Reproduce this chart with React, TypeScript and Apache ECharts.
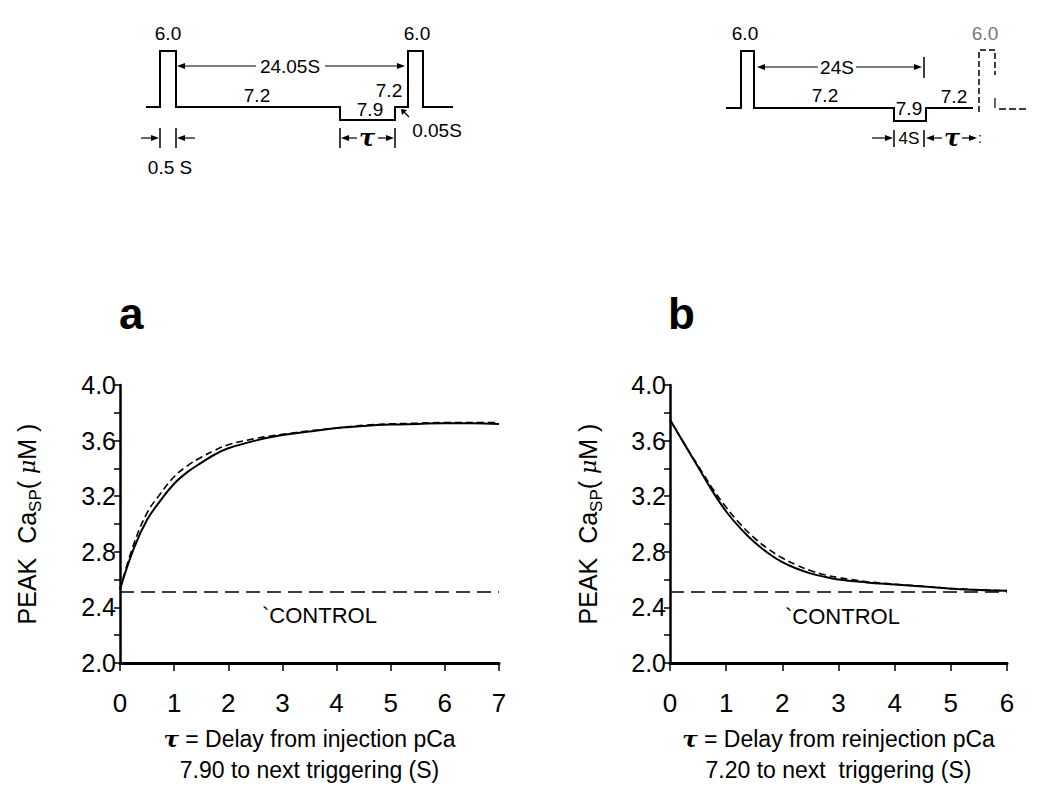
import React, { useEffect, useRef } from "react";
import * as echarts from "echarts";

const FONT = '"Liberation Sans", Arial, Helvetica, sans-serif';

// Panel a: delay from injection pCa 7.90
const tA = [0, 0.25, 0.5, 0.75, 1, 1.25, 1.5, 1.75, 2, 2.5, 3, 3.5, 4, 4.5, 5, 5.5, 6, 6.5, 7];
const solidA = [2.53, 2.82, 3.03, 3.17, 3.29, 3.375, 3.44, 3.5, 3.545, 3.6, 3.64, 3.665, 3.69, 3.705, 3.715, 3.72, 3.725, 3.725, 3.72];
const dashA = [2.53, 2.85, 3.08, 3.22, 3.34, 3.42, 3.48, 3.53, 3.57, 3.615, 3.645, 3.67, 3.69, 3.71, 3.72, 3.725, 3.73, 3.73, 3.73];

// Panel b: delay from reinjection pCa 7.20
const tB = [0, 0.25, 0.5, 0.75, 1, 1.25, 1.5, 1.75, 2, 2.25, 2.5, 2.75, 3, 3.5, 4, 4.5, 5, 5.5, 6];
const solidB = [3.75, 3.58, 3.41, 3.24, 3.09, 2.97, 2.87, 2.79, 2.725, 2.68, 2.645, 2.62, 2.6, 2.58, 2.565, 2.55, 2.535, 2.525, 2.52];
const dashB = [3.75, 3.58, 3.42, 3.26, 3.12, 3.0, 2.9, 2.82, 2.755, 2.705, 2.665, 2.635, 2.615, 2.585, 2.567, 2.552, 2.537, 2.527, 2.52];

const controlLevel = 2.51;
const xMaxA = 7;
const xMaxB = 6;
const yMin = 2.0;
const yMax = 4.0;

const yTitle = "PEAK  Ca{sub|SP}( {mu|μ}M )";
const xTitleA = "{tau|τ} = Delay from injection pCa\n7.90 to next triggering (S)";
const xTitleB = "{tau|τ} = Delay from reinjection pCa\n7.20 to next  triggering (S)";

function pairs(xs: number[], ys: number[]) {
  return xs.map((x, i) => [x, ys[i]]);
}

const K = "#000";

function line(x1: number, y1: number, x2: number, y2: number, w = 2, dash?: number[]) {
  return {
    type: "line",
    shape: { x1, y1, x2, y2 },
    style: { stroke: K, lineWidth: w, lineDash: dash },
  };
}
function poly(points: number[][], w = 2, dash?: number[]) {
  return {
    type: "polyline",
    shape: { points },
    style: { stroke: K, lineWidth: w, fill: null, lineDash: dash },
  };
}
function head(tx: number, ty: number, dir: number) {
  return {
    type: "polygon",
    shape: { points: [[tx, ty], [tx - dir * 8, ty - 3], [tx - dir * 8, ty + 3]] },
    style: { fill: K },
  };
}
function arrow(x1: number, x2: number, y: number) {
  const dir = x2 > x1 ? 1 : -1;
  return [line(x1, y, x2 - dir * 4, y, 1.2), head(x2, y, dir)];
}
function txt(text: string, x: number, y: number, size = 18, extra: any = {}) {
  return {
    type: "text",
    x,
    y,
    style: {
      text,
      fontFamily: FONT,
      fontSize: size,
      fill: K,
      align: "center",
      verticalAlign: "middle",
      ...extra,
    },
  };
}
function tau(x: number, y: number) {
  return txt("τ", x, y, 24, { fontFamily: '"DejaVu Serif", serif', fontStyle: "italic", fontWeight: "bold" });
}

function schematic() {
  const g: any[] = [];
  // ---- left protocol ----
  g.push(
    poly([
      [146, 107], [160, 107], [160, 51], [176, 51], [176, 107], [340, 107], [340, 120],
      [395, 120], [395, 107], [408, 107], [408, 51], [423, 51], [423, 107], [453, 107],
    ])
  );
  g.push(txt("6.0", 168, 33, 19), txt("6.0", 417, 33, 19));
  g.push(...arrow(256, 177, 66), ...arrow(325, 405, 66));
  g.push(txt("24.05S", 290, 66, 19));
  g.push(txt("7.2", 257, 95, 19), txt("7.2", 389, 90, 19), txt("7.9", 370, 109, 19));
  g.push(line(409, 117, 403, 111, 1.2));
  g.push({ type: "polygon", shape: { points: [[401, 109], [407, 110], [402, 115]] }, style: { fill: K } });
  g.push(txt("0.05S", 437, 130, 19));
  // tau bracket
  g.push(line(340, 128, 340, 148, 1.5), line(395, 128, 395, 148, 1.5));
  g.push(...arrow(357, 341, 138), ...arrow(378, 394, 138));
  g.push(tau(367, 137));
  // 0.5 s
  g.push(line(160, 128, 160, 148, 1.5), line(176, 128, 176, 148, 1.5));
  g.push(...arrow(141, 159, 138), ...arrow(195, 177, 138));
  g.push(txt("0.5 S", 170, 167, 19));

  // ---- right protocol ----
  g.push(
    poly([
      [726, 108], [741, 108], [741, 51], [754, 51], [754, 108], [894, 108], [894, 121],
      [926, 121], [926, 108], [973, 108],
    ])
  );
  g.push(poly([[979, 112], [979, 50], [995, 50], [995, 75]], 1.5, [6, 3]));
  g.push(line(995, 98, 995, 108, 1.2));
  g.push(line(999, 109, 1028, 109, 1.5, [7, 3]));
  g.push(txt("6.0", 745, 33, 19), txt("6.0", 985, 33, 19, { fill: "#777" }));
  g.push(...arrow(818, 757, 67), ...arrow(856, 922, 67));
  g.push(line(924, 57, 924, 78, 1.5));
  g.push(txt("24S", 837, 67, 19));
  g.push(txt("7.2", 825, 95, 19), txt("7.9", 909, 108, 19), txt("7.2", 954, 96, 19));
  g.push(...arrow(872, 893, 138));
  g.push(line(894, 130, 894, 147, 1.5), line(924, 130, 924, 147, 1.5));
  g.push(txt("4S", 909, 138, 17));
  g.push(...arrow(942, 926, 138), ...arrow(962, 977, 138));
  g.push(tau(952, 137));
  g.push(txt(":", 980, 138, 14));

  // panel labels
  g.push(txt("a", 119, 313, 44, { fontWeight: "bold", align: "left" }));
  g.push(txt("b", 668, 313, 44, { fontWeight: "bold", align: "left" }));

  // control labels
  g.push(txt("`CONTROL", 262, 615, 22, { align: "left" }));
  g.push(txt("`CONTROL", 785, 616, 22, { align: "left" }));
  return g;
}

function yAxisCfg(gridIndex: number, nameGap: number) {
  return {
    type: "value",
    gridIndex,
    min: yMin,
    max: yMax,
    interval: 0.2,
    name: yTitle,
    nameLocation: "middle",
    nameRotate: 90,
    nameGap,
    nameTextStyle: {
      fontFamily: FONT,
      fontSize: 25,
      color: K,
      lineHeight: 34,
      rich: {
        sub: { fontFamily: FONT, fontSize: 17, color: K, verticalAlign: "bottom", lineHeight: 17 },
        mu: { fontFamily: '"DejaVu Serif", serif', fontStyle: "italic", fontSize: 22, color: K, lineHeight: 34 },
      },
    },
    axisLine: { show: true, lineStyle: { color: K, width: 2.5 } },
    axisTick: { show: true, length: 6, lineStyle: { color: K, width: 1.5 } },
    axisLabel: {
      color: K,
      fontFamily: FONT,
      fontSize: 25,
      margin: 4,
      formatter: (v: number) => (Math.round(v * 10) % 4 === 0 ? v.toFixed(1) : ""),
    },
    splitLine: { show: false },
  };
}

function xAxisCfg(gridIndex: number, max: number, name: string) {
  return {
    type: "value",
    gridIndex,
    min: 0,
    max,
    interval: 1,
    name,
    nameLocation: "middle",
    nameGap: 60,
    nameTextStyle: {
      fontFamily: FONT,
      fontSize: 23,
      color: K,
      lineHeight: 31,
      rich: {
        tau: { fontFamily: '"DejaVu Serif", serif', fontStyle: "italic", fontWeight: "bold", fontSize: 23, color: K, lineHeight: 31 },
      },
    },
    axisLine: { show: true, onZero: false, lineStyle: { color: K, width: 3 } },
    axisTick: { show: true, length: 8, lineStyle: { color: K, width: 1.5 } },
    axisLabel: { color: K, fontFamily: FONT, fontSize: 26, margin: 27 },
    splitLine: { show: false },
  };
}

function curve(name: string, xi: number, data: number[][], dashed: boolean) {
  return {
    name,
    type: "line",
    xAxisIndex: xi,
    yAxisIndex: xi,
    data,
    smooth: 0.4,
    showSymbol: false,
    symbol: "none",
    lineStyle: { color: K, width: dashed ? 1.6 : 2, type: dashed ? [7, 4] : "solid" },
  };
}

export default function App() {
  const ref = useRef<HTMLDivElement>(null);
  useEffect(() => {
    if (!ref.current) return;
    const chart = echarts.init(ref.current, undefined, { renderer: "svg" });
    chart.setOption({
      animation: false,
      backgroundColor: "#fff",
      grid: [
        { left: 120, top: 385, width: 379, height: 278 },
        { left: 670, top: 385, width: 337, height: 278 },
      ],
      xAxis: [xAxisCfg(0, xMaxA, xTitleA), xAxisCfg(1, xMaxB, xTitleB)],
      yAxis: [yAxisCfg(0, 76), yAxisCfg(1, 65)],
      series: [
        curve("solidA", 0, pairs(tA, solidA), false),
        curve("dashA", 0, pairs(tA, dashA), true),
        {
          name: "controlA",
          type: "line",
          xAxisIndex: 0,
          yAxisIndex: 0,
          data: [[0, controlLevel], [xMaxA, controlLevel]],
          showSymbol: false,
          symbol: "none",
          lineStyle: { color: K, width: 1.5, type: [14, 7] },
        },
        curve("solidB", 1, pairs(tB, solidB), false),
        curve("dashB", 1, pairs(tB, dashB), true),
        {
          name: "controlB",
          type: "line",
          xAxisIndex: 1,
          yAxisIndex: 1,
          data: [[0, controlLevel], [xMaxB, controlLevel]],
          showSymbol: false,
          symbol: "none",
          lineStyle: { color: K, width: 1.5, type: [14, 7] },
        },
      ],
      graphic: schematic(),
    });
    return () => chart.dispose();
  }, []);
  return <div ref={ref} style={{ position: "absolute", left: 0, top: 0, width: 1050, height: 795 }} />;
}
